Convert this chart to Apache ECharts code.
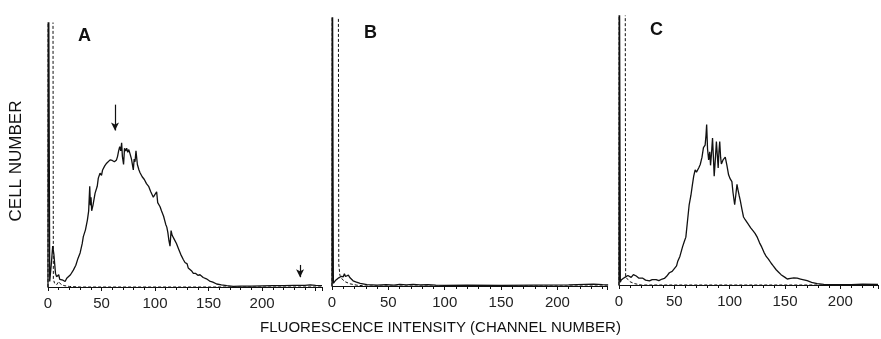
<!DOCTYPE html>
<html>
<head>
<meta charset="utf-8">
<script src="https://cdn.jsdelivr.net/npm/echarts@6/dist/echarts.min.js"></script>
<style>
  html, body { margin: 0; padding: 0; background: #fff; }
  #chart { width: 881px; height: 339px; }
</style>
</head>
<body>
<div id="chart"></div>
<script>
// panel letters and axis titles
var panelNames = ['A', 'B', 'C'];
var xTitle = 'FLUORESCENCE INTENSITY (CHANNEL NUMBER)';
var yTitle = 'CELL NUMBER';

// [channel, cell number] (spikes at 0 go off scale)
var sampleA = [[0,0],[0.3,150],[1,150],[1.6,2],[3,8],[4.4,15],[5.5,12],[7,5],[8,3.8],[10,4.5],[11,2.8],[12.8,3.2],[14,2.5],[16,2],[17.5,3.2],[19,3],[21,4.5],[23.7,6.2],[26,8],[28,10.5],[30,12.5],[32,16],[33,18.5],[35,21],[36.8,24.6],[38,28],[39,37],[39.6,30],[40.2,33],[40.8,28],[42,30],[44,34.5],[46,37],[47,40],[48.6,41.8],[50,41],[51,43],[53,44.5],[54.8,45.5],[56,45],[58,46.7],[60,46.5],[62,46],[64,46.7],[65,48],[66,50],[67,51.6],[68,50],[68.8,53],[69.5,48],[70.6,45],[71.5,51],[72.5,50],[73.5,51],[74.5,49.5],[75.5,50.5],[76.6,49],[78,47],[79.7,43],[80.5,47],[81.3,46],[82.2,50],[83.5,45],[85,43],[86,42],[88,40.5],[90,39.5],[92,38],[94,37],[96,35],[98.4,33],[100,32.5],[101.5,35],[102.5,31],[104.7,29.5],[106,28],[108,26],[110,23],[111,22],[112,20],[113,17],[114,15],[115,20.7],[116,19],[118,17.5],[120,16],[122,14],[124,12],[126.5,10],[128,9],[130,8.5],[131,7],[132.7,7.5],[134,6],[135.8,5],[138,5],[140,4.3],[142,4.5],[145,3.5],[148,3],[151,2.2],[154,1.8],[157.6,1.1],[162,0.8],[167,0.5],[173,0.2],[180,0.3],[190,0.3],[200,0.4],[210,0.5],[220,0.5],[230,0.6],[240,0.6],[245,0.8],[250,0.6],[256,0.5]];
var controlA = [[0,0],[0.2,150],[4.5,150],[5,3],[6,1.5],[8,0.8],[10,2],[12,1],[15,0.5],[20,0.2],[30,0],[256,0]];

var sampleB = [[0,0],[0.2,150],[0.8,150],[1.2,1],[3,2],[6,3],[8,3.5],[10,3.4],[11,4.5],[12,3.5],[14.5,4],[16,3],[18.7,1.9],[21,1.5],[25,1],[31,0.5],[40,0.3],[48,0.5],[55,0.3],[60,0.6],[66,0.4],[72,0.6],[78,0.4],[85,0.5],[92,0.3],[100,0.2],[120,0.3],[150,0.2],[180,0.3],[210,0.4],[225,0.6],[232,0.7],[240,0.5],[245,0.4]];
var controlB = [[0,0],[0.3,150],[5.5,150],[6,8],[7,4],[9,2.5],[12,1.5],[16,0.8],[22,0.3],[30,0],[245,0]];

var sampleC = [[0,0],[0.2,150],[0.8,150],[1.2,1],[2,1.8],[4,2.5],[6,3],[8,3.5],[9.6,4],[11,2.8],[13,3.8],[15.6,3.3],[18,2.5],[21.5,2.5],[24,1.8],[27.5,1.5],[30,2],[33.5,2],[36,1.6],[39,2.2],[41,2.4],[43,3.2],[45.5,4.5],[48,5],[50,6],[52,7],[53,8.6],[55,10.5],[57.4,14],[59,16],[60.4,17.6],[62,24],[63.4,29.5],[65,33],[66.3,36.8],[67.5,40],[68.8,42.3],[70,41.5],[70.8,41],[72,43],[73.4,44.3],[75,47],[76.3,50.5],[77.8,51.4],[78.6,55],[79.2,59],[80,50],[81,46],[82,49],[82.7,44],[83.5,48],[84.5,54],[85.3,47],[86,40],[87,46],[88,52.7],[88.8,48],[89.6,43],[90.3,49],[91,52.7],[91.8,47],[92.5,44.5],[94,46],[96,47],[97.5,44],[99,40.5],[100.5,39],[102,38],[103,34],[104.5,29.5],[105.5,33],[106.6,37],[107.5,35],[108.5,33],[109.6,31],[111,28],[112.5,25],[114,24],[116,22.8],[117,22.5],[119,21],[121,20],[122.9,19],[125,17.5],[127,15.5],[128.9,14],[131,12],[133,10.5],[135,9.5],[136,10],[137.5,8],[139,7.2],[140.5,7.5],[142,5.6],[144,4.8],[146.4,3.8],[148,3.5],[150,2.8],[152,2.2],[155,2.4],[158,2.6],[161,2.5],[164,2.2],[167,1.9],[170,1.6],[174,1],[179,0.5],[185,0.2],[195,0.1],[210,0.1],[220,0.3],[234,0.2]];
var controlC = [[0,0],[0.2,150],[5.5,150],[6,3],[8,2],[10,1.2],[14,0.5],[20,0],[234,0]];

// arrows in panel A: [channel, from, to]
var arrowsA = [[62.6, 67, 57.5], [235.5, 8.1, 3.6]];

var chart = echarts.init(document.getElementById('chart'));

var ink = '#111';
var grids = [
    {left: 48, top: 23, width: 274, height: 264},
    {left: 332, top: 18, width: 275, height: 268},
    {left: 619, top: 16, width: 262, height: 269}
];
var xMax = [256, 244, 234];
var yMax = [97, 98.5, 98.9];
var samples = [sampleA, sampleB, sampleC];
var controls = [controlA, controlB, controlC];
var letterPos = [[73, 22], [359, 19], [645, 16]];

var xAxes = [], yAxes = [], series = [], titles = [];
for (var i = 0; i < 3; i++) {
    xAxes.push({
        type: 'value', gridIndex: i, min: 0, max: xMax[i], interval: 50,
        axisLine: {lineStyle: {color: ink, width: 1.2}},
        axisTick: {length: 4, lineStyle: {color: ink}},
        minorTick: {show: true, splitNumber: 5, length: 3, lineStyle: {color: ink}},
        splitLine: {show: false},
        axisLabel: {
            margin: 9, fontSize: 15, color: '#222', fontFamily: 'Liberation Sans',
            formatter: function (v) { return v > 200 ? '' : v; }
        }
    });
    yAxes.push({
        type: 'value', gridIndex: i, min: 0, max: yMax[i],
        axisLine: {show: false}, axisTick: {show: false},
        axisLabel: {show: false}, splitLine: {show: false},
        name: i === 0 ? yTitle : '', nameLocation: 'middle', nameGap: 23,
        nameTextStyle: {fontSize: 17, color: ink, fontFamily: 'Liberation Sans', padding: [0, 0, 0, -12]}
    });
    var s = {
        type: 'line', xAxisIndex: i, yAxisIndex: i, data: samples[i],
        symbol: 'none', clip: true, animation: false,
        lineStyle: {color: ink, width: 1.3}
    };
    if (i === 0) {
        s.markLine = {
            silent: true, animation: false,
            symbol: ['none', 'arrow'], symbolSize: [6, 8],
            label: {show: false},
            lineStyle: {color: ink, width: 1.2, type: 'solid'},
            data: arrowsA.map(function (a) {
                return [{coord: [a[0], a[1]]}, {coord: [a[0], a[2]]}];
            })
        };
    }
    series.push(s);
    series.push({
        type: 'line', xAxisIndex: i, yAxisIndex: i, data: controls[i],
        symbol: 'none', clip: true, animation: false,
        lineStyle: {color: ink, width: 1, type: [3, 2]}
    });
    titles.push({
        text: panelNames[i], left: letterPos[i][0], top: letterPos[i][1],
        textStyle: {fontSize: 18, fontWeight: 'bold', color: ink, fontFamily: 'Liberation Sans'}
    });
}
titles.push({
    text: xTitle, left: 'center', top: 315,
    textStyle: {fontSize: 15, fontWeight: 'normal', color: ink, fontFamily: 'Liberation Sans'}
});

var option = {
    backgroundColor: '#fff',
    animation: false,
    title: titles,
    grid: grids,
    xAxis: xAxes,
    yAxis: yAxes,
    series: series
};
chart.setOption(option);
</script>
</body>
</html>
